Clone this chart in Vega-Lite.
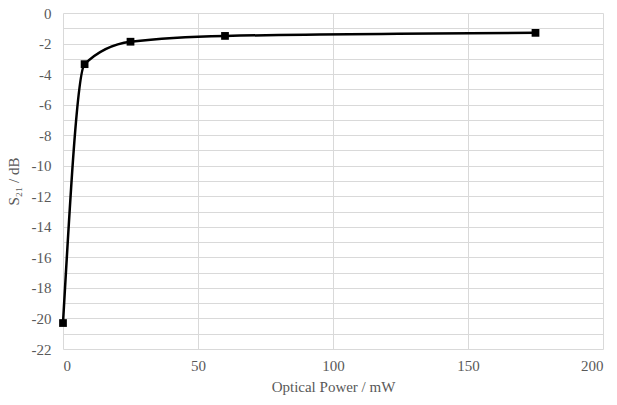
{
  "$schema": "https://vega.github.io/schema/vega-lite/v6.json",
  "width": 540,
  "height": 336,
  "autosize": "none",
  "padding": {"left": 63, "top": 13, "right": 14, "bottom": 56},
  "background": "white",
  "config": {
    "view": {"stroke": null}
  },
  "data": {
    "values": [
      {"power": 0, "s21": -20.3},
      {"power": 8, "s21": -3.35},
      {"power": 25, "s21": -1.88},
      {"power": 60, "s21": -1.5},
      {"power": 175, "s21": -1.3}
    ]
  },
  "encoding": {
    "x": {
      "field": "power",
      "type": "quantitative",
      "scale": {"domain": [0, 200], "nice": false},
      "axis": {
        "values": [0, 50, 100, 150, 200],
        "title": "Optical Power / mW",
        "labelFont": "Liberation Serif",
        "titleFont": "Liberation Serif",
        "labelFontSize": 15,
        "titleFontSize": 15,
        "titleFontWeight": "normal",
        "labelColor": "#595959",
        "titleColor": "#595959",
        "gridColor": "#d9d9d9",
        "domain": false,
        "ticks": false,
        "labelPadding": 9,
        "titlePadding": 6
      }
    },
    "y": {
      "field": "s21",
      "type": "quantitative",
      "scale": {"domain": [-22, 0], "nice": false},
      "axis": {
        "values": [0, -1, -2, -3, -4, -5, -6, -7, -8, -9, -10, -11, -12, -13, -14, -15, -16, -17, -18, -19, -20, -21, -22],
        "labelExpr": "datum.value % 2 == 0 ? '' + datum.value : ''",
        "title": "S₂₁ / dB",
        "labelFont": "Liberation Serif",
        "titleFont": "Liberation Serif",
        "labelFontSize": 15,
        "titleFontSize": 15,
        "titleFontWeight": "normal",
        "labelColor": "#595959",
        "titleColor": "#595959",
        "gridColor": "#d9d9d9",
        "domain": false,
        "ticks": false,
        "labelPadding": 12,
        "titlePadding": 10
      }
    }
  },
  "layer": [
    {
      "mark": {"type": "line", "color": "black", "strokeWidth": 2.5, "interpolate": "monotone"}
    },
    {
      "mark": {"type": "point", "shape": "square", "filled": true, "color": "black", "opacity": 1, "size": 60}
    }
  ]
}
